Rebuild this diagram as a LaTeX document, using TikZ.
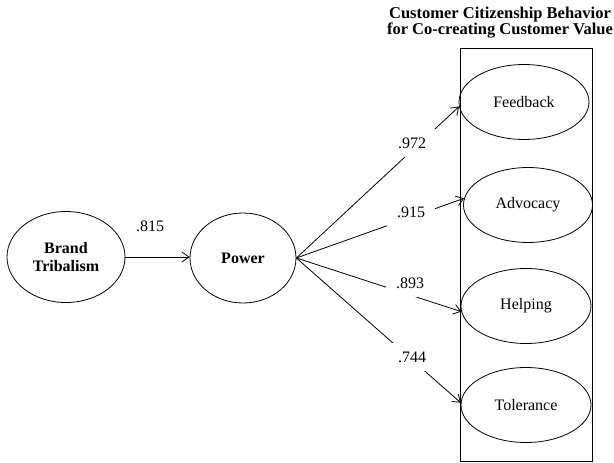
\documentclass[tikz,border=0pt]{standalone}
\usepackage{fontspec}
\setmainfont{Liberation Serif}
\usetikzlibrary{shapes.geometric}
\usetikzlibrary{arrows.meta}

\begin{document}
\begin{tikzpicture}[
    x=1pt, y=-1pt,
    main node/.style={ellipse,draw,line width=0.8pt,inner sep=0pt,
      font=\fontsize{16}{18}\selectfont,align=center},
    edge label/.style={fill=white,inner xsep=10pt,inner ysep=9pt,
      font=\fontsize{16}{18}\selectfont},
    path arrow/.style={line width=0.8pt,-{Straight Barb[length=7pt,width=10pt]}}
]
    \useasboundingbox (0,0) rectangle (614,463);

    \node[main node, minimum width=118, minimum height=91] (brand) at (66,257) {\textbf{Brand}\\\textbf{Tribalism}};
    \node[main node, minimum width=106, minimum height=90] (power) at (243,258) {\textbf{Power}};

    % outcome dimensions
    \draw[line width=0.8pt] (460,48) rectangle (592,461.5);
    \node[main node, minimum width=130, minimum height=75] (feedback) at (524,102) {Feedback};
    \node[main node, minimum width=129, minimum height=75] (advocacy) at (528,205) {Advocacy};
    \node[main node, minimum width=130, minimum height=75] (helping) at (526,306) {Helping};
    \node[main node, minimum width=130, minimum height=75] (tolerance) at (526,405) {Tolerance};

    \node[align=center, font=\bfseries\fontsize{16.5}{16}\selectfont] (title) at (500,23)
      {Customer Citizenship Behavior\\for Co-creating Customer Value};

  \draw[path arrow] (brand.east) -- (brand.east -| power.west);
  \draw[path arrow] (power.east) -- (feedback.184);
  \draw[path arrow] (power.east) -- (advocacy.174);
  \draw[path arrow] (power.east) -- (helping.185);
  \draw[path arrow] (power.east) -- (tolerance.178);

    \node[font=\fontsize{16}{18}\selectfont] (l815) at (150,226) {.815};
    \node[edge label] (l972) at (412,143) {.972};
    \node[edge label] (l915) at (411,212) {.915};
    \node[edge label] (l893) at (410,283) {.893};
    \node[edge label] (l744) at (412,357) {.744};
\end{tikzpicture}
\end{document}
